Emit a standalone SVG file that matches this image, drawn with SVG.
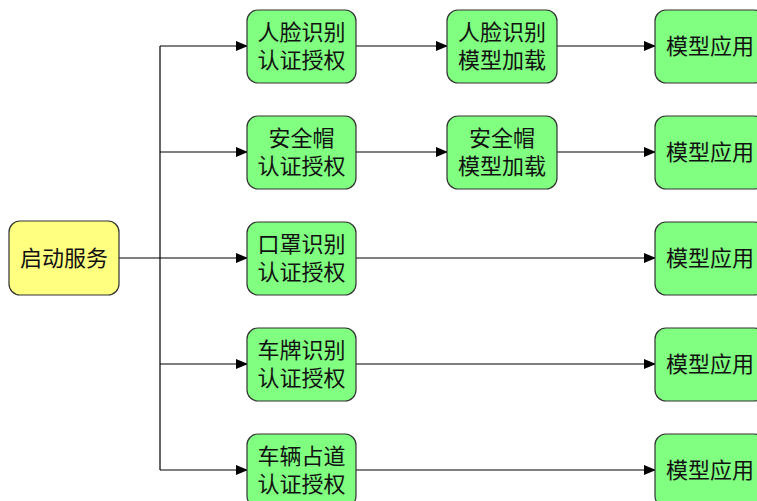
<svg xmlns="http://www.w3.org/2000/svg" width="757" height="501" viewBox="0 0 757 501">
<defs>
<marker id="arr" markerWidth="12" markerHeight="10" refX="11" refY="5" orient="auto" markerUnits="userSpaceOnUse">
<path d="M0,0 L12,5 L0,10 Z" fill="#000"/>
</marker>
<style>
.n rect{stroke:#333;stroke-width:1.2}
.g rect{fill:#80ff80}
.y rect{fill:#ffff80}
text{font-family:"Noto Sans CJK SC","Noto Sans",sans-serif;font-size:22px;fill:#111;text-anchor:middle}
.e{stroke:#000;stroke-width:1.2;fill:none}
</style>
</defs>
<rect width="757" height="501" fill="#fff"/>
<g id="connectors">
<path class="e" d="M119,258 H160"/>
<path class="e" d="M160,46 V470"/>
<path class="e" d="M160,46 H247" marker-end="url(#arr)"/>
<path class="e" d="M160,152 H247" marker-end="url(#arr)"/>
<path class="e" d="M160,258 H247" marker-end="url(#arr)"/>
<path class="e" d="M160,364 H247" marker-end="url(#arr)"/>
<path class="e" d="M160,470 H247" marker-end="url(#arr)"/>
<path class="e" d="M356,46 H447" marker-end="url(#arr)"/>
<path class="e" d="M356,152 H447" marker-end="url(#arr)"/>
<path class="e" d="M557,46 H655" marker-end="url(#arr)"/>
<path class="e" d="M557,152 H655" marker-end="url(#arr)"/>
<path class="e" d="M356,258 H655" marker-end="url(#arr)"/>
<path class="e" d="M356,364 H655" marker-end="url(#arr)"/>
<path class="e" d="M356,470 H655" marker-end="url(#arr)"/>
</g>
<g id="start" class="n y"><rect x="9" y="221" width="110" height="74" rx="11"/><text x="64" y="266">启动服务</text></g>
<g id="auth1" class="n g"><rect x="247" y="10" width="109" height="73" rx="11"/><text x="301.5" y="40">人脸识别</text><text x="301.5" y="68">认证授权</text></g>
<g id="auth2" class="n g"><rect x="247" y="116" width="109" height="73" rx="11"/><text x="301.5" y="146">安全帽</text><text x="301.5" y="174">认证授权</text></g>
<g id="auth3" class="n g"><rect x="247" y="222" width="109" height="73" rx="11"/><text x="301.5" y="252">口罩识别</text><text x="301.5" y="280">认证授权</text></g>
<g id="auth4" class="n g"><rect x="247" y="328" width="109" height="73" rx="11"/><text x="301.5" y="358">车牌识别</text><text x="301.5" y="386">认证授权</text></g>
<g id="auth5" class="n g"><rect x="247" y="434" width="109" height="73" rx="11"/><text x="301.5" y="464">车辆占道</text><text x="301.5" y="492">认证授权</text></g>
<g id="load1" class="n g"><rect x="447" y="10" width="110" height="73" rx="11"/><text x="502" y="40">人脸识别</text><text x="502" y="68">模型加载</text></g>
<g id="load2" class="n g"><rect x="447" y="116" width="110" height="73" rx="11"/><text x="502" y="146">安全帽</text><text x="502" y="174">模型加载</text></g>
<g id="app1" class="n g"><rect x="655" y="10" width="110" height="73" rx="11"/><text x="710" y="54">模型应用</text></g>
<g id="app2" class="n g"><rect x="655" y="116" width="110" height="73" rx="11"/><text x="710" y="160">模型应用</text></g>
<g id="app3" class="n g"><rect x="655" y="222" width="110" height="73" rx="11"/><text x="710" y="266">模型应用</text></g>
<g id="app4" class="n g"><rect x="655" y="328" width="110" height="73" rx="11"/><text x="710" y="372">模型应用</text></g>
<g id="app5" class="n g"><rect x="655" y="434" width="110" height="73" rx="11"/><text x="710" y="478">模型应用</text></g>
</svg>
